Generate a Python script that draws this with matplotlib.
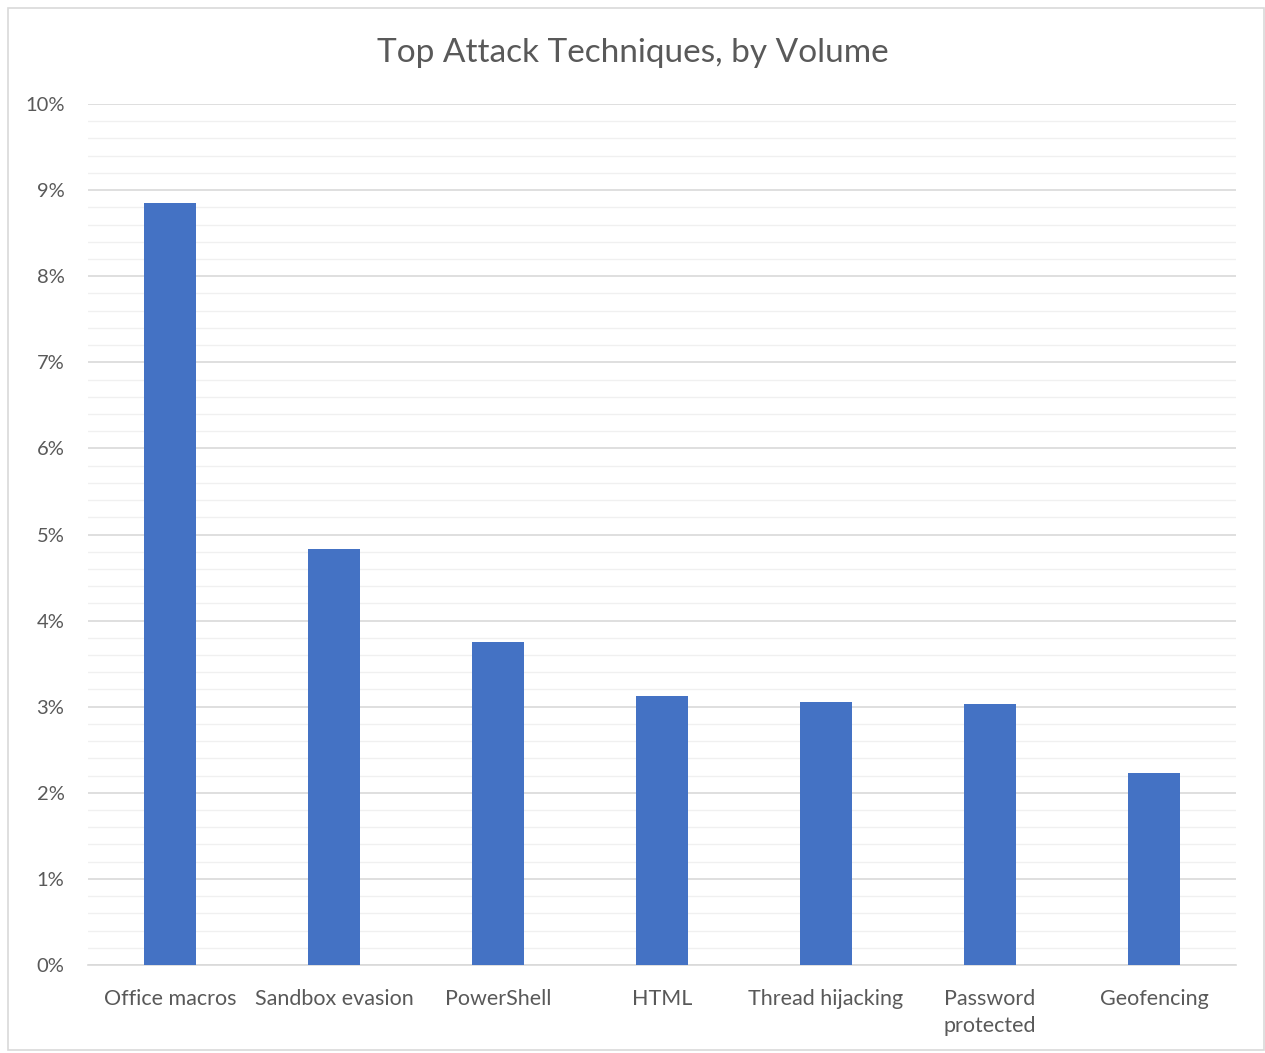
import matplotlib
matplotlib.use("Agg")
import matplotlib.pyplot as plt
from matplotlib.patches import Rectangle
from matplotlib.ticker import MultipleLocator, FuncFormatter

plt.rcParams['font.family'] = ['Lato', 'DejaVu Sans']

categories = ["Office macros", "Sandbox evasion", "PowerShell", "HTML",
              "Thread hijacking", "Password\nprotected", "Geofencing"]
values = [8.85, 4.83, 3.75, 3.12, 3.05, 3.03, 2.23]

text_color = "#595959"

fig = plt.figure(figsize=(12.65, 10.53), dpi=100)
fig.patches.append(Rectangle((8/1265, 3/1053), 1256/1265, 1042/1053,
                             transform=fig.transFigure, fill=False,
                             edgecolor="#D9D9D9", linewidth=1.2))
ax = fig.add_axes([88/1265, 1 - 965/1053, 1148/1265, 861/1053])

x = range(len(categories))
ax.bar(x, values, width=0.32, color="#4472C4", zorder=3)

ax.set_xlim(-0.5, len(categories) - 0.5)
ax.set_ylim(0, 10)
ax.yaxis.set_major_locator(MultipleLocator(1))
ax.yaxis.set_minor_locator(MultipleLocator(0.2))
ax.yaxis.set_major_formatter(FuncFormatter(lambda v, p: f"{v:.0f}%"))
ax.grid(which="major", axis="y", color="#D9D9D9", linewidth=1.2, zorder=0)
ax.grid(which="minor", axis="y", color="#F0F0F0", linewidth=1.0, zorder=0)
ax.set_axisbelow(True)

for s in ["top", "right", "left"]:
    ax.spines[s].set_visible(False)
ax.spines["bottom"].set_color("#D9D9D9")
ax.spines["bottom"].set_linewidth(1.2)

ax.set_xticks(list(x))
ax.set_xticklabels(categories, fontsize=15.5, color=text_color, linespacing=1.45)
ax.tick_params(axis="x", length=0, pad=17)
ax.tick_params(axis="y", which="both", length=0, pad=17, labelsize=14.5,
               labelcolor=text_color)

fig.text(0.5, 1 - 53/1053, "Top Attack Techniques, by Volume", ha="center",
         va="center", fontsize=24, color=text_color)

fig.savefig("out.png", dpi=100)
